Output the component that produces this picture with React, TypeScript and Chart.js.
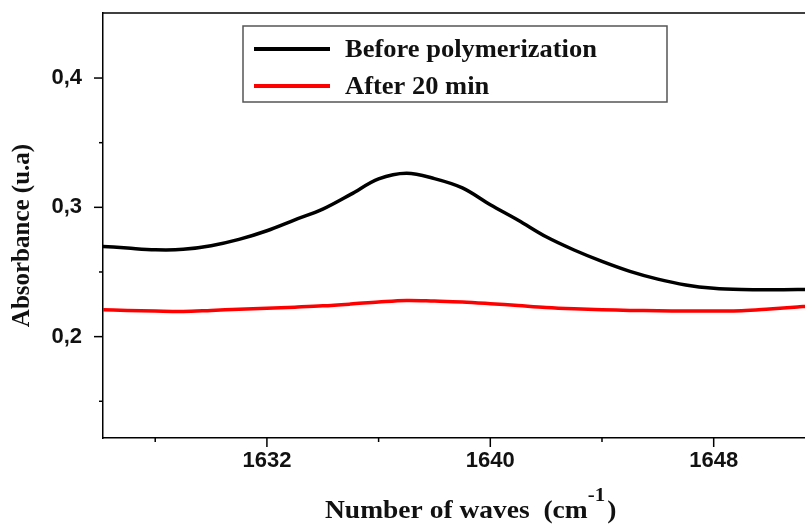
import React, { useEffect, useRef } from "react";
import { Chart, registerables } from "chart.js";

Chart.register(...registerables);

// ---- data ----
const wavenumbers = [
  1626, 1627, 1628, 1629, 1630, 1631, 1632, 1633, 1634, 1635, 1636, 1637, 1638,
  1639, 1640, 1641, 1642, 1643, 1644, 1645, 1646, 1647, 1648, 1649, 1650, 1651, 1651.3,
];
const beforePolymerization = [
  0.270, 0.2685, 0.2672, 0.2675, 0.2703, 0.2752, 0.2819, 0.2903, 0.2986, 0.3100,
  0.3220, 0.3264, 0.3222, 0.3150, 0.3020, 0.2900, 0.2772, 0.2670, 0.2582, 0.2505,
  0.2445, 0.2400, 0.2374, 0.2364, 0.2363, 0.2364, 0.2365,
];
const after20min = [
  0.2208, 0.2203, 0.2198, 0.2195, 0.2203, 0.2212, 0.2219, 0.2228, 0.2238, 0.2252,
  0.2268, 0.2280, 0.2275, 0.2268, 0.2255, 0.2240, 0.2225, 0.2215, 0.2208, 0.2203,
  0.2200, 0.2198, 0.2198, 0.2200, 0.2214, 0.2230, 0.2234,
];
const seriesLabels = ["Before polymerization", "After 20 min"];
const seriesColors = ["#000000", "#ff0000"];
const xLabelledTicks = [1632, 1640, 1648];
const yLabelledTicks = [0.2, 0.3, 0.4];
const xAxisTitle = "Number of waves  (cm";
const xAxisTitleSup = "-1";
const xAxisTitleEnd = ")";
const yAxisTitle = "Absorbance (u.a)";

const SERIF = "'Liberation Serif', 'Times New Roman', serif";
const SANS = "'Liberation Sans', Arial, sans-serif";

const decorPlugin = {
  id: "decor",
  afterDraw(chart: any) {
    const ctx = chart.ctx;
    const area = chart.chartArea;
    const xs = chart.scales.x;
    const ys = chart.scales.y;
    ctx.save();
    ctx.strokeStyle = "#000";
    ctx.lineWidth = 1.5;
    // top frame line
    ctx.beginPath();
    ctx.moveTo(area.left, area.top);
    ctx.lineTo(area.right, area.top);
    ctx.stroke();
    // y ticks
    ys.ticks.forEach((t: any) => {
      const p = ys.getPixelForValue(t.value);
      if (p < area.top + 2 || p > area.bottom - 1) return;
      const len = t.label ? 9 : 4;
      ctx.beginPath();
      ctx.moveTo(area.left - len, p);
      ctx.lineTo(area.left, p);
      ctx.stroke();
    });
    // x ticks
    xs.ticks.forEach((t: any) => {
      const p = xs.getPixelForValue(t.value);
      if (p < area.left + 1 || p > area.right - 1) return;
      const len = t.label ? 9 : 4;
      ctx.beginPath();
      ctx.moveTo(p, area.bottom);
      ctx.lineTo(p, area.bottom + len);
      ctx.stroke();
    });

    // legend box
    const bx = area.left + 140;
    const by = area.top + 13;
    const bw = 424;
    const bh = 76;
    ctx.strokeStyle = "#555";
    ctx.lineWidth = 1.5;
    ctx.strokeRect(bx, by, bw, bh);
    ctx.font = `bold 25px ${SERIF}`;
    ctx.textBaseline = "alphabetic";
    ctx.textAlign = "left";
    chart.data.datasets.forEach((ds: any, i: number) => {
      const ly = by + 23 + i * 37;
      ctx.strokeStyle = ds.borderColor;
      ctx.lineWidth = 4;
      ctx.beginPath();
      ctx.moveTo(bx + 11, ly);
      ctx.lineTo(bx + 87, ly);
      ctx.stroke();
      ctx.fillStyle = "#111";
      ctx.save();
      ctx.translate(bx + 102, ly + 8);
      ctx.scale(1.06, 1);
      ctx.fillText(ds.label, 0, 0);
      ctx.restore();
    });

    // x axis title with superscript (slightly widened like the original)
    ctx.fillStyle = "#111";
    ctx.font = `bold 25px ${SERIF}`;
    const mainW = ctx.measureText(xAxisTitle).width;
    ctx.font = `bold 19px ${SERIF}`;
    const supW = ctx.measureText(xAxisTitleSup).width;
    ctx.font = `bold 25px ${SERIF}`;
    const endW = ctx.measureText(xAxisTitleEnd).width;
    const sx = 1.1;
    const total = (mainW + supW + endW + 2) * sx;
    const startX = 325;
    const baseY = area.bottom + 80;
    ctx.save();
    ctx.translate(startX, baseY);
    ctx.scale(sx, 1);
    let tx = 0;
    ctx.fillText(xAxisTitle, tx, 0);
    tx += mainW;
    ctx.font = `bold 19px ${SERIF}`;
    ctx.fillText(xAxisTitleSup, tx, -17);
    tx += supW + 2;
    ctx.font = `bold 25px ${SERIF}`;
    ctx.fillText(xAxisTitleEnd, tx, 0);
    ctx.restore();
    void total;

    // y axis title rotated
    ctx.save();
    ctx.translate(28.5, (area.top + area.bottom) / 2 + 10);
    ctx.rotate(-Math.PI / 2);
    ctx.textAlign = "center";
    ctx.font = `bold 25px ${SERIF}`;
    ctx.fillText(yAxisTitle, 0, 0);
    ctx.restore();

    ctx.restore();
  },
};

export default function App() {
  const ref = useRef<HTMLCanvasElement | null>(null);
  useEffect(() => {
    if (!ref.current) return;
    const series = [beforePolymerization, after20min];
    const chart = new Chart(ref.current, {
      type: "line",
      data: {
        datasets: series.map((vals, i) => ({
          label: seriesLabels[i],
          data: wavenumbers.map((w, j) => ({ x: w, y: vals[j] })),
          borderColor: seriesColors[i],
          backgroundColor: seriesColors[i],
          borderWidth: 3.5,
          pointRadius: 0,
          tension: 0.35,
          fill: false,
        })),
      },
      options: {
        responsive: false,
        animation: false,
        maintainAspectRatio: false,
        layout: { padding: { top: 13, right: 0, left: 0, bottom: 0 } },
        plugins: {
          legend: { display: false },
          tooltip: { enabled: false },
          title: { display: false },
        },
        scales: {
          x: {
            type: "linear",
            min: 1626.13,
            max: 1651.27,
            afterFit: (s: any) => {
              s.height = 86;
              s.paddingLeft = 0;
              s.paddingRight = 0;
            },
            grid: { display: false, drawTicks: false },
            border: { display: true, color: "#000", width: 1.5 },
            ticks: {
              stepSize: 4,
              includeBounds: false,
              autoSkip: false,
              maxRotation: 0,
              padding: 10,
              color: "#111",
              font: { family: SANS, size: 22, weight: "bold" },
              callback: (v: any) =>
                xLabelledTicks.some((t) => Math.abs(t - Number(v)) < 1e-6) ? String(v) : "",
            },
          },
          y: {
            type: "linear",
            min: 0.1216,
            max: 0.4503,
            afterFit: (s: any) => {
              s.width = 103;
              s.paddingTop = 0;
              s.paddingBottom = 0;
            },
            grid: { display: false, drawTicks: false },
            border: { display: true, color: "#000", width: 1.5 },
            ticks: {
              stepSize: 0.05,
              includeBounds: false,
              autoSkip: false,
              padding: 21,
              color: "#111",
              font: { family: SANS, size: 22, weight: "bold" },
              callback: (v: any) => {
                const hit = yLabelledTicks.find((t) => Math.abs(t - Number(v)) < 1e-6);
                return hit !== undefined ? hit.toFixed(1).replace(".", ",") : "";
              },
            },
          },
        },
      },
      plugins: [decorPlugin],
    });
    return () => chart.destroy();
  }, []);
  return (
    <div style={{ position: "absolute", left: 0, top: 0, width: 805, height: 524, background: "#fff" }}>
      <canvas ref={ref} width={805} height={524} style={{ width: 805, height: 524 }} />
    </div>
  );
}
